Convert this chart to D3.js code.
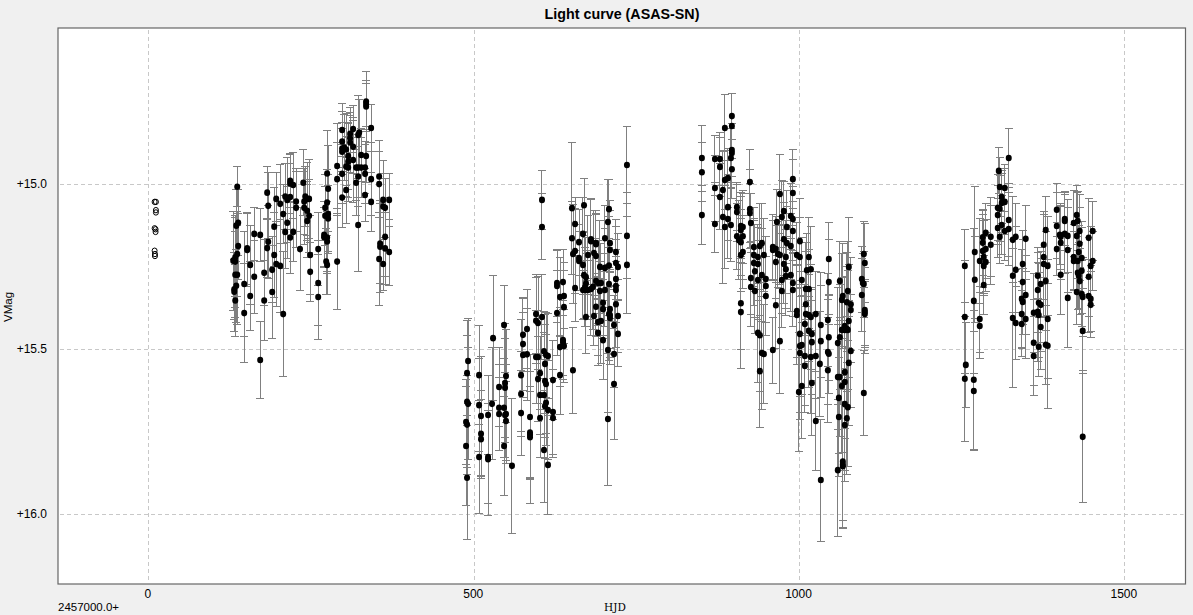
<!DOCTYPE html>
<html><head><meta charset="utf-8">
<style>html,body{margin:0;padding:0;background:#f0f0f0;overflow:hidden}svg{display:block}text{font-family:"Liberation Sans",Arial,sans-serif;fill:#000}</style>
<script src="https://cdn.jsdelivr.net/npm/d3@7/dist/d3.min.js"></script>
</head><body><svg id="c" width="1193" height="615"></svg>
<script>
const chartTitle="Light curve (ASAS-SN)", xLabel="HJD", yLabel="VMag", xOffsetLabel="2457000.0+";
const xTicks=[0,500,1000,1500];
const yTicks=[15,15.5,16];
// open markers without error bars: [HJD-2457000, V]
const openPoints=[[9.5,15.054],[11.5,15.054],[11.5,15.079],[11.5,15.086],[9.5,15.134],[11,15.137],[11,15.145],[9.5,15.202],[10,15.212],[10,15.218]];
// filled points: [HJD-2457000, V, error]
const season1=[[136.5,15.008,.06],[135,15.126,.11],[138,15.117,.1],[138,15.188,.1],[136.5,15.212,.13],[133.4,15.222,.12],[130.3,15.232,.15],[133.4,15.235,.14],[133.4,15.275,.13],[136.5,15.275,.15],[135,15.308,.11],[131.9,15.319,.09],[131.9,15.326,.12],[133.4,15.353,.11],
[147.2,15.303,.16],[147.2,15.391,.15],[151.8,15.195,.11],[151.8,15.2,.11],[156.4,15.245,.12],[156.4,15.339,.105],[162.6,15.151,.08],[162.6,15.281,.11],[171.8,15.154,.08],[171.8,15.533,.116],[177.9,15.269,.1],[177.9,15.353,.12],[182.5,15.026,.08],[182.5,15.194,.09],[184.1,15.066,.1],[184.1,15.175,.11],[190.2,15.26,.1],[190.2,15.327,.14],[193.3,15.129,.12],[193.3,15.215,.13],[196.4,15.045,.08],[196.4,15.242,.13],[202.5,15.06,.12],[202.5,15.248,.14],[207.1,15.091,.09],[207.1,15.394,.19],[210.2,15.038,.1],[210.2,15.145,.11],[213.3,15.048,.13],[213.3,15.117,.11],[217.9,15.039,.1],[217.9,15.162,.11],[217.9,14.99,.08],[217.9,14.998,.09],[222.5,15.003,.1],[222.5,15.145,.09],[227,15.053,.09],[227,15.072,.12],[233,15.197,.125],[238,14.996,.1],[239.4,15.053,.1],[239.4,15.072,.11],[241,15.038,.09],[244,15.045,.11],[244,15.081,.09],[244,15.112,.11],[247,15.045,.12],[247,15.096,.11],[248.6,15.215,.12],[248.6,15.266,.09],[260.9,15.197,.11],[260.9,15.3,.13],[260.9,15.342,.13],[270,15.154,.1],[270,15.161,.09],[271.6,15.072,.1],[271.6,15.096,.09],[273.2,15.235,.1],[274.7,14.968,.13],[274.7,15.056,.1],[274.7,15.162,.11],[274.7,15.174,.09],[274.7,15.245,.09],[276.2,15.014,.13],[276.2,15.091,.12],[276.2,15.104,.1],
[290,14.945,.13],[290,14.985,.11],[290,15.235,.145],[297.7,14.836,.08],[297.7,14.871,.09],[297.7,14.892,.08],[297.7,14.902,.07],[297.7,14.969,.09],[297.7,15.041,.09],[300.8,14.889,.1],[303.9,14.895,.11],[303.9,14.947,.09],[303.9,15.018,.1],[307,14.915,.1],[307,14.932,.12],[307,14.95,.09],[310,14.848,.08],[310,14.861,.07],[310,14.874,.09],[314.6,14.833,.07],[314.6,14.887,.08],[314.6,14.927,.13],[319.2,14.95,.1],[319.2,14.996,.1],[322.3,14.851,.12],[322.3,14.95,.09],[322.3,14.977,.09],[322.3,15.124,.14],[323.9,14.844,.1],[327,14.912,.08],[327,14.95,.09],[333,14.95,.08],[333,14.969,.09],[333,15.033,.08],[334.6,14.75,.09],[334.6,14.757,.07],[334.6,14.765,.07],[334.6,14.915,.08],[342.3,14.83,.07],[342.3,14.985,.11],[342.3,15.054,.09],[354.6,14.977,.11],[354.6,15,.1],[354.6,15.227,.14],[356.1,15.18,.12],[356.1,15.19,.14],[360.7,15.048,.12],[360.7,15.068,.1],[360.7,15.242,.08],[363.8,15.072,.09],[363.8,15.16,.12],[363.8,15.195,.11],[370,15.048,.08],[370,15.206,.1]];
const season2=[[491.3,15.536,.13],[489.7,15.573,.16],[489.7,15.66,.2],[491.3,15.666,.17],[488.2,15.721,.13],[489.7,15.729,.15],[488.2,15.794,.18],[489.7,15.89,.188],
[508.2,15.579,.15],[508.2,15.67,.14],[508.2,15.827,.17],[511.2,15.703,.18],[511.2,15.757,.13],[511.2,15.773,.12],[522,15.7,.12],[522,15.827,.14],[522,15.834,.17],[528.1,15.666,.17],[529.7,15.467,.19],
[538.9,15.615,.12],[538.9,15.678,.13],[538.9,15.697,.11],[546.6,15.427,.12],[546.6,15.678,.15],[546.6,15.794,.15],[548.1,15.603,.18],[548.1,15.617,.15],[549.6,15.582,.14],[549.6,15.697,.15],[549.6,15.718,.12],[548.1,15.7,.13],[558.8,15.854,.204],
[572.7,15.579,.17],[572.7,15.636,.13],[572.7,15.694,.13],[575.7,15.457,.11],[575.7,15.485,.14],[575.7,15.518,.13],[581.9,15.439,.12],[581.9,15.516,.14],[586.5,15.706,.19],[586.5,15.753,.14],[586.5,15.76,.13],[586.5,15.767,.2],
[595.7,15.394,.12],[595.7,15.414,.13],[598.8,15.421,.14],[595.7,15.524,.14],[598.8,15.524,.14],[598.8,15.591,.13],[601.9,15.573,.11],[601.9,15.639,.12],[601.9,15.709,.12],[604.9,15.403,.13],[608,15.639,.19],[608,15.806,.16],[608,15.507,.12],[611.1,15.518,.13],[609.5,15.545,.15],[609.5,15.597,.17],[611.1,15.606,.15],[611.1,15.663,.13],[609.5,15.673,.16],[614.1,15.521,.13],[614.1,15.685,.15],[614.1,15.851,.15],
[604.9,15.048,.09],[604.9,15.13,.1],[621.8,15.594,.12],[621.8,15.691,.13],[621.8,15.709,.12],[628,15.3,.1],[628,15.309,.11],[628,15.391,.13],[632.6,15.342,.12],[632.6,15.494,.12],[632.6,15.579,.12],[637.2,15.297,.1],[637.2,15.473,.12],[637.2,15.479,.1],[638.7,15.339,.1],[638.7,15.373,.11],[638.7,15.491,.11],[652.5,15.564,.13],
[651,15.073,.2],[651,15.164,.11],[652.6,15.212,.15],[655.7,15.121,.08],[655.7,15.203,.13],[655.7,15.315,.1],[661.8,15.176,.1],[661.8,15.224,.1],[661.8,15.233,.09],[667.9,15.151,.11],[667.9,15.245,.09],[669.5,15.064,.08],[669.5,15.276,.13],[672.5,15.282,.12],[672.5,15.301,.1],[667.9,15.321,.09],[671,15.313,.12],[672.5,15.321,.11],[672.5,15.403,.11],[675.6,15.215,.12],[675.6,15.321,.09],[680.2,15.167,.12],[680.2,15.173,.13],[680.2,15.318,.14],[684.8,15.209,.13],[684.8,15.4,.09],[683.3,15.311,.13],[687.9,15.179,.1],[687.9,15.182,.09],[687.9,15.218,.13],[687.9,15.294,.13],[687.9,15.372,.09],[691,15.3,.13],[691,15.418,.1],[691,15.451,.1],[694,15.251,.14],[694,15.324,.09],[695.6,15.3,.12],[695.6,15.415,.13],[698.7,15.36,.1],[698.7,15.379,.09],[698.7,15.473,.12],[701.7,15.164,.1],[701.7,15.254,.12],[701.7,15.321,.11],
[707.9,15.076,.09],[706.3,15.115,.13],[709.4,15.179,.13],[709.4,15.2,.12],[707.9,15.247,.15],[707.9,15.303,.11],[709.4,15.379,.12],[709.4,15.397,.13],[707.9,15.394,.14],[709.4,15.406,.14],[706.3,15.503,.19],[706.3,15.712,.2],[715.6,15.427,.09],[715.6,15.515,.1],[715.6,15.606,.168],[718.6,15.206,.1],[718.6,15.239,.11],[718.6,15.288,.12],[718.6,15.309,.11],[718.6,15.321,.1],[718.6,15.364,.13],[721.7,15.251,.1],[721.7,15.4,.11],[721.7,15.454,.1],[735.5,14.942,.118],[735.5,15.157,.13],[735.5,15.245,.147]];
const season3=[[850.7,14.921,.1],[850.7,14.964,.09],[850.7,15.094,.09],[870.7,14.924,.07],[870.7,15.012,.1],[870.7,15.121,.086],[878.4,14.924,.08],[878.4,14.948,.09],[878.4,15.039,.1],[883,15.018,.12],[883,15.1,.2],[886,14.83,.1],[886,14.988,.09],[886,15.13,.127],[890.7,14.982,.09],[890.7,15.07,.1],[890.7,15.106,.12],[895.3,14.921,.09],[895.3,15.124,.11],[896.8,14.794,.07],[896.8,14.824,.1],[896.8,14.897,.08],[896.8,14.906,.09],[896.8,14.955,.09],
[904.5,15.07,.07],[904.5,15.085,.09],[904.5,15.158,.1],[907.6,15.17,.12],[910.6,15.127,.1],[910.6,15.139,.1],[910.6,15.176,.1],[910.6,15.215,.11],[910.6,15.361,.14],[910.6,15.388,.17],[913.7,15.13,.11],[913.7,15.158,.13],[913.7,15.206,.11],
[924.5,14.994,.1],[924.5,15.076,.12],[924.5,15.088,.09],[926,15.118,.09],[926,15.285,.11],[926,15.312,.12],[930.6,15.191,.12],[930.6,15.215,.11],[930.6,15.239,.13],[932.2,15.264,.14],[932.2,15.324,.13],[936.8,15.221,.1],[936.8,15.242,.11],[936.8,15.291,.12],[936.8,15.451,.15],[939.8,15.188,.13],[939.8,15.458,.17],[939.8,15.567,.17],[942.9,15.179,.12],[942.9,15.276,.14],[942.9,15.512,.17],[946,15.215,.11],[946,15.515,.15],[949,15.288,.13],[949,15.309,.15],[949,15.339,.12],
[959.8,15.191,.1],[959.8,15.2,.09],[959.8,15.503,.1],[964.4,15.197,.1],[964.4,15.236,.11],[964.4,15.367,.13],[966,15.115,.1],[967.5,15.212,.1],[970.6,15.03,.12],[970.6,15.215,.09],[970.6,15.476,.16],[973.6,15.1,.11],[973.6,15.291,.1],[973.6,15.324,.11],[976.7,15.082,.09],[976.7,15.167,.11],[976.7,15.242,.12],[979.8,15.221,.11],[979.8,15.258,.12],[979.8,15.279,.12],[981.3,15.13,.11],[981.3,15.179,.11],[987.4,15.097,.1],[987.4,15.188,.1],[987.4,15.276,.11],[990.5,14.985,.09],[990.5,15.027,.1],[990.5,15.106,.1],[990.5,15.142,.09],[990.5,15.3,.1],[990.5,15.321,.11],
[996.7,15.215,.1],[996.7,15.385,.14],[996.7,15.397,.15],[1001.3,15.173,.13],[1001.3,15.221,.12],[1001.3,15.454,.19],[1001.3,15.491,.2],[1001.3,15.512,.2],[1004.3,15.291,.13],[1004.3,15.488,.15],[1004.3,15.612,.16],[999.7,15.63,.18],
[1009,15.424,.12],[1009,15.521,.15],[1009,15.551,.14],[1010.5,15.318,.14],[1010.5,15.364,.16],[1010.5,15.394,.13],[1012,15.261,.11],[1015.1,15.221,.12],[1015.1,15.318,.12],[1015.1,15.445,.17],[1015.1,15.397,.14],[1018.2,15.258,.13],[1018.2,15.403,.16],[1018.2,15.524,.17],[1019.7,15.454,.14],[1019.7,15.479,.16],[1019.7,15.603,.16],
[1025.8,15.394,.13],[1025.8,15.521,.13],[1025.8,15.718,.15],[1032,15.545,.16],[1033.5,15.427,.16],[1033.5,15.476,.17],[1033.5,15.897,.185],
[1045.8,15.227,.11],[1045.8,15.297,.13],[1044.3,15.412,.14],[1045.8,15.464,.13],[1044.3,15.509,.16],[1045.8,15.514,.12],[1044.3,15.564,.16],
[1059.6,15.482,.17],[1059.6,15.585,.16],[1062.7,15.294,.12],[1062.7,15.464,.16],[1062.7,15.585,.18],[1061.2,15.648,.17],[1061.2,15.706,.18],[1065.8,15.351,.14],[1067.3,15.339,.16],[1065.8,15.442,.16],[1065.8,15.612,.2],[1070.4,15.43,.15],[1070.4,15.442,.16],[1070.4,15.57,.17],[1070.4,15.667,.2],[1070.4,15.73,.17],[1070.4,15.6,.17],[1073.5,15.358,.15],[1073.5,15.439,.19],[1075,15.324,.15],[1075,15.442,.18],[1075,15.676,.18],[1073.5,15.71,.17],[1076.5,15.251,.15],[1076.5,15.415,.17],[1076.5,15.542,.19],[1079.6,15.364,.14],[1079.6,15.382,.16],[1079.6,15.506,.17],[1059.6,15.867,.2],[1067.3,15.841,.18],[1067.3,15.85,.19],[1067.3,15.855,.19],
[1099.6,15.212,.1],[1101.1,15.239,.12],[1096.5,15.288,.1],[1098,15.3,.09],[1099.6,15.303,.1],[1096.5,15.336,.11],[1101.1,15.382,.13],[1101.1,15.388,.1],[1101.1,15.394,.1],[1099.6,15.633,.13]];
const season4=[[1254.8,15.248,.11],[1254.8,15.403,.17],[1256.3,15.548,.13],[1254.8,15.59,.19],[1270.1,15.206,.2],[1270.1,15.29,.13],[1268.6,15.354,.22],[1268.6,15.593,.21],[1268.6,15.627,.18],[1277.8,15.233,.13],[1277.8,15.409,.1],[1277.8,15.43,.1],
[1282.4,15.161,.08],[1282.4,15.178,.1],[1282.4,15.203,.11],[1283.9,15.221,.11],[1283.9,15.248,.09],[1283.9,15.306,.09],[1287,15.148,.09],[1287,15.197,.09],[1287,15.236,.09],[1294.7,15.16,.12],[1294.7,15.184,.12],
[1305.4,15.072,.1],[1305.4,15.094,.09],[1305.4,15.133,.09],[1307,14.96,.07],[1308.5,15.009,.09],[1308.5,15.075,.1],[1308.5,15.16,.08],[1311.6,15.039,.08],[1311.6,15.057,.09],[1311.6,15.124,.09],[1316.2,15.012,.07],[1316.2,15.054,.1],[1316.2,15.142,.09],[1322.3,14.921,.09],[1322.3,15.109,.11],[1322.3,15.136,.11],
[1328.5,15.169,.13],[1328.5,15.278,.11],[1328.5,15.406,.21],[1333.1,15.16,.1],[1333.1,15.26,.13],[1333.1,15.421,.11],[1343.8,15.242,.1],[1343.8,15.297,.13],[1342.3,15.348,.15],[1343.8,15.357,.1],[1342.3,15.394,.1],[1342.3,15.424,.1],[1348.4,15.166,.1],[1348.4,15.336,.12],[1348.4,15.409,.12],
[1360.7,15.39,.12],[1360.7,15.481,.13],[1360.7,15.521,.12],[1366.9,15.278,.07],[1366.9,15.321,.13],[1366.9,15.387,.15],[1368.4,15.36,.12],[1368.4,15.397,.13],[1368.4,15.493,.09],[1371.5,15.303,.1],[1371.5,15.366,.14],[1371.5,15.433,.13],[1376.1,15.184,.1],[1376.1,15.221,.13],[1376.1,15.242,.16],[1379.2,15.139,.1],[1379.2,15.294,.15],[1379.2,15.487,.12],[1382.2,15.248,.15],[1382.2,15.409,.18],[1382.2,15.49,.19],
[1396.1,15.078,.08],[1396.1,15.127,.1],[1396.1,15.197,.08],[1400.7,15.154,.09],[1402.2,15.16,.1],[1402.2,15.178,.11],[1402.2,15.275,.12],[1408.4,15.106,.08],[1408.4,15.112,.09],[1408.4,15.151,.12],[1413,15.157,.11],[1413,15.2,.13],[1413,15.345,.15],
[1422.2,15.118,.1],[1422.2,15.221,.1],[1422.2,15.233,.09],[1426.8,15.094,.09],[1426.8,15.157,.13],[1426.8,15.327,.1],[1428.3,15.112,.09],[1428.3,15.233,.09],[1428.3,15.269,.11],[1429.9,15.206,.08],[1429.9,15.278,.1],[1431.4,15.142,.11],[1431.4,15.181,.11],[1431.4,15.294,.1],[1434.5,15.224,.11],[1434.5,15.263,.13],[1434.5,15.333,.1],[1436,15.342,.12],[1436,15.445,.13],[1436,15.766,.2],
[1445.2,15.163,.12],[1445.2,15.281,.12],[1445.2,15.339,.11],[1448.3,15.248,.12],[1448.3,15.348,.1],[1448.3,15.366,.1],[1451.4,15.142,.09],[1451.4,15.233,.09]];

const W=1193,H=615,L=58,R=1185.5,T=28,B=584;
const filled=[...season1,...season2,...season3,...season4];
const xDomain=[-139,1594],yDomain=[14.527,16.212];
const x=d3.scaleLinear().domain(xDomain).range([L,R]);
const y=d3.scaleLinear().domain(yDomain).range([T,B]);
const svg=d3.select("#c");
svg.append("rect").attr("x",L).attr("y",T).attr("width",R-L).attr("height",B-T).attr("fill","#fff");

const gx=svg.append("g").attr("transform",`translate(0,${B})`)
  .call(d3.axisBottom(x).tickValues(xTicks).tickSize(0).tickPadding(5).tickFormat(d3.format("d")));
gx.select(".domain").remove();
gx.selectAll("text").attr("font-size",12).attr("font-family","Liberation Sans").attr("fill","#000").attr("dx",-1);
const gy=svg.append("g").attr("transform",`translate(${L},0)`)
  .call(d3.axisLeft(y).tickValues(yTicks).tickSize(0).tickPadding(11).tickFormat(d=>"+"+d.toFixed(1)));
gy.select(".domain").remove();
gy.selectAll("text").attr("font-size",12).attr("font-family","Liberation Sans").attr("fill","#000");

const grid=svg.append("g").attr("stroke","#c8c8c8").attr("stroke-width",1).attr("stroke-dasharray","4 3").attr("fill","none");
grid.selectAll("line.v").data(xTicks).join("line").attr("class","v")
  .attr("x1",d=>Math.round(x(d))+.5).attr("x2",d=>Math.round(x(d))+.5).attr("y1",T+2).attr("y2",B-3);
grid.selectAll("line.h").data(yTicks).join("line").attr("class","h")
  .attr("y1",d=>Math.round(y(d))+.5).attr("y2",d=>Math.round(y(d))+.5).attr("x1",L+2).attr("x2",R-2);

const bars=svg.append("g").attr("stroke","#808080").attr("stroke-width",1).attr("fill","none").attr("shape-rendering","crispEdges");
const cap=4;
const ebar=bars.selectAll("g").data(filled).join("g");
ebar.append("line").attr("x1",d=>x(d[0])).attr("x2",d=>x(d[0])).attr("y1",d=>y(d[1]-d[2])).attr("y2",d=>y(d[1]+d[2]));
ebar.append("line").attr("x1",d=>x(d[0])-cap).attr("x2",d=>x(d[0])+cap).attr("y1",d=>y(d[1]-d[2])).attr("y2",d=>y(d[1]-d[2]));
ebar.append("line").attr("x1",d=>x(d[0])-cap).attr("x2",d=>x(d[0])+cap).attr("y1",d=>y(d[1]+d[2])).attr("y2",d=>y(d[1]+d[2]));

svg.append("g").selectAll("ellipse").data(filled).join("ellipse")
  .attr("cx",d=>x(d[0])).attr("cy",d=>y(d[1])).attr("rx",3).attr("ry",3.3).attr("fill","#000");
svg.append("g").selectAll("ellipse").data(openPoints).join("ellipse")
  .attr("cx",d=>x(d[0])).attr("cy",d=>y(d[1])).attr("rx",2.5).attr("ry",2.7).attr("fill","none").attr("stroke","#000").attr("stroke-width",1);

svg.append("rect").attr("x",L).attr("y",T).attr("width",R-L).attr("height",B-T).attr("fill","none").attr("stroke","#666").attr("stroke-width",1.2);

svg.append("text").attr("x",622).attr("y",19).attr("text-anchor","middle").attr("font-weight","bold").attr("font-size",14.3).text(chartTitle);
svg.append("text").attr("transform","translate(12,307) rotate(-90)").attr("text-anchor","middle").attr("font-size",11.5).text(yLabel);
svg.append("text").attr("x",58).attr("y",611).attr("font-size",11.5).text(xOffsetLabel);
svg.append("text").attr("x",615).attr("y",611).attr("text-anchor","middle").attr("font-size",10.5).style("font-family","'DejaVu Serif',serif").text(xLabel);
</script></body></html>
